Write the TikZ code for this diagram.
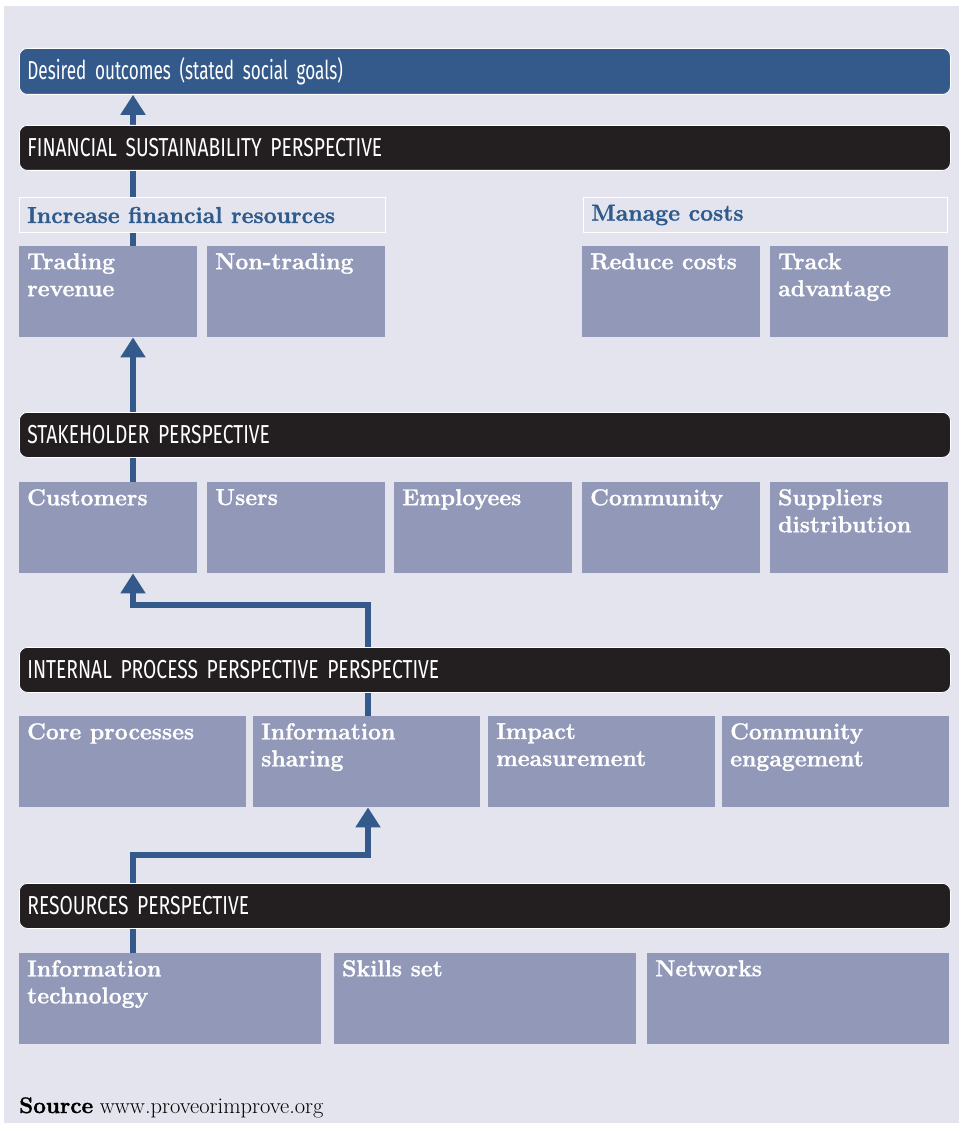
\documentclass[tikz,border=0pt]{standalone}
\usepackage{fontspec}
\usetikzlibrary{arrows.meta,calc}
\setmainfont{Latin Modern Roman}[BoldFeatures={FakeBold=1.2}]
\newfontfamily\condsans[FakeStretch=0.74,WordSpace=0.6]{Fira Sans}
\newfontfamily\condsanslc[FakeStretch=0.66,WordSpace=0.7]{Fira Sans}
\definecolor{bgc}{HTML}{E3E4EE}
\definecolor{bluec}{HTML}{335A8A}
\definecolor{hdrc}{HTML}{231F20}
\definecolor{boxc}{HTML}{9198B8}
\definecolor{inct}{HTML}{2E5A8C}
\pgfdeclarelayer{bglayer}
\pgfdeclarelayer{arrlayer}
\pgfsetlayers{bglayer,arrlayer,main}
\tikzset{
  hdr/.style={fill=hdrc, draw=white, line width=0.8pt, rounded corners=8pt, anchor=north west,
    minimum width=931pt, minimum height=45pt, text width=915pt, align=left, inner xsep=8pt,
    text=white, font=\condsans\fontsize{26}{28}\selectfont},
  topbar/.style={hdr, fill=bluec, minimum height=46pt, font=\condsanslc\fontsize{26}{28}\selectfont},
  bx/.style={fill=boxc, anchor=north west, inner sep=0pt, minimum height=91pt},
  bxt/.style={anchor=north west, inner xsep=8pt, inner ysep=7pt, align=left, text=white,
    font=\bfseries\fontsize{23}{27}\selectfont},
  grp/.style={fill=bgc, draw=white, line width=1pt, anchor=north west, inner sep=0pt, minimum height=35pt},
  grpt/.style={anchor=west, inner xsep=8pt, text=inct, font=\bfseries\fontsize{23}{26}\selectfont},
  arr/.style={draw=bluec, line width=6pt, -{Triangle[width=24pt,length=20pt]}}
}
\newcommand{\boxnode}[6]{%
  \node[bx, minimum width=#4pt] (#1) at (#2,#3) {};
  \node[bxt] (#1t) at (#1.north west) {#5};}
\begin{document}
\begin{tikzpicture}[x=1pt,y=-1pt]
\useasboundingbox (0,0) rectangle (959,1123);
\begin{pgfonlayer}{bglayer}
\fill[bgc] (4,6) rectangle (959,1123);
\end{pgfonlayer}

\node[topbar] (des) at (19,48) {Desired outcomes (stated social goals)};
\node[hdr] (fin) at (19,125) {FINANCIAL SUSTAINABILITY PERSPECTIVE};

\node[grp, minimum width=366pt] (inc) at (19,197) {};
\node[grpt] (inct) at (inc.west) {Increase financial resources};
\node[grp, minimum width=364pt] (man) at (583,197) {};
\node[grpt] (mant) at (man.west) {Manage costs};

\boxnode{trad}{19}{246}{178}{Trading\\revenue}{}
\boxnode{nontr}{207}{246}{178}{Non-trading}{}
\boxnode{redc}{582}{246}{178}{Reduce costs}{}
\boxnode{track}{770}{246}{178}{Track\\advantage}{}

\node[hdr] (stk) at (19,412) {STAKEHOLDER PERSPECTIVE};
\boxnode{cust}{19}{482}{178}{Customers}{}
\boxnode{users}{207}{482}{178}{Users}{}
\boxnode{empl}{394}{482}{178}{Employees}{}
\boxnode{comm}{582}{482}{178}{Community}{}
\boxnode{supp}{770}{482}{178}{Suppliers\\distribution}{}

\node[hdr] (int) at (19,647) {INTERNAL PROCESS PERSPECTIVE PERSPECTIVE};
\boxnode{core}{19}{716}{227}{Core processes}{}
\boxnode{infosh}{253}{716}{227}{Information\\sharing}{}
\boxnode{impact}{488}{716}{227}{Impact\\measurement}{}
\boxnode{cengage}{722}{716}{227}{Community\\engagement}{}

\node[hdr] (res) at (19,883) {RESOURCES PERSPECTIVE};
\boxnode{itech}{19}{953}{302}{Information\\technology}{}
\boxnode{skills}{334}{953}{302}{Skills set}{}
\boxnode{netw}{647}{953}{302}{Networks}{}

\node[anchor=base west, inner sep=0pt, font=\fontsize{22.5}{24}\selectfont] (src) at (19,1113)
  {\textbf{Source} www.proveorimprove.org};

\begin{pgfonlayer}{arrlayer}
\coordinate (a1) at ([xshift=114pt]trad.north west);
\draw[arr] (a1) -- (a1 |- des.south);
\coordinate (a2) at ([xshift=114pt]cust.north west);
\draw[arr] (a2) -- (a2 |- trad.south);
\coordinate (a3) at ([xshift=115pt]infosh.north west);
\coordinate (t3) at ([xshift=114pt]cust.south west);
\draw[arr] (a3) -- ++(0,-111) -| (t3);
\coordinate (a4) at ([xshift=114pt]itech.north west);
\coordinate (t4) at ([xshift=115pt]infosh.south west);
\draw[arr] (a4) -- ++(0,-98) -| (t4);
\end{pgfonlayer}
\end{tikzpicture}
\end{document}
